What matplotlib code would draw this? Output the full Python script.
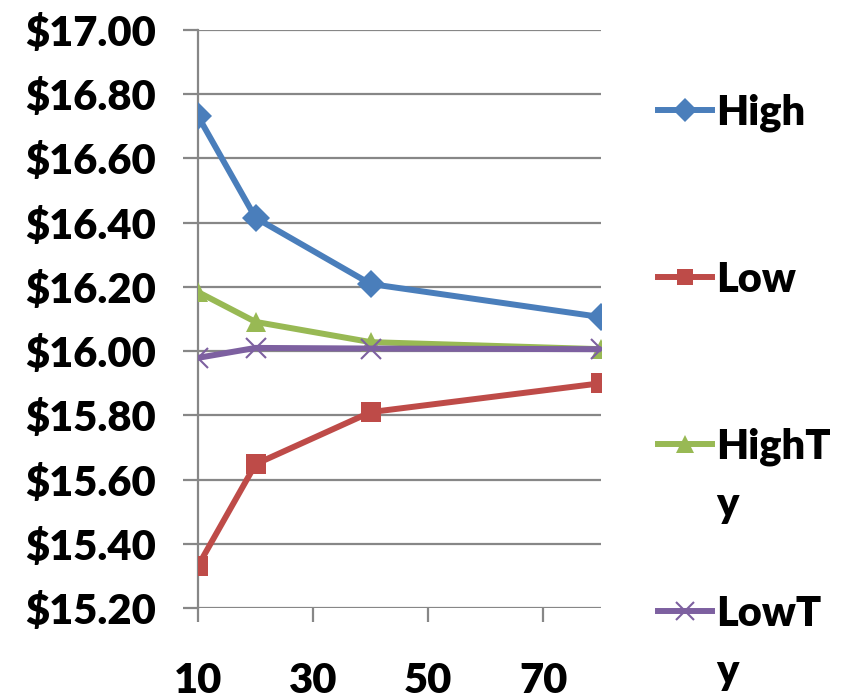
import matplotlib.pyplot as plt
from matplotlib.lines import Line2D
from matplotlib.ticker import FuncFormatter

# price series against x
x = [10, 20, 40, 80]
high = [16.732, 16.415, 16.209, 16.106]
low = [15.331, 15.648, 15.810, 15.900]
high_ty = [16.184, 16.091, 16.028, 16.006]
low_ty = [15.979, 16.010, 16.008, 16.006]

names = ["High", "Low", "HighT\ny", "LowT\ny"]
colors = ["#4A7EBB", "#BE4B48", "#98B954", "#7D60A0"]
markers = ["D", "s", "^", "x"]
sizes = [14, 14, 15, 15]

plt.rcParams['font.family'] = ['Lato', 'DejaVu Sans']
FS = 30
FW = "heavy"

fig = plt.figure(figsize=(8.46, 6.99), dpi=100)
ax = fig.add_axes([198/846, 1-608/699, (601-198)/846, (608-30)/699])

grid = "#878787"
for vals, c, m, s in zip([high, low, high_ty, low_ty], colors, markers, sizes):
    ax.plot(x, vals, color=c, lw=4.3, marker=m, markersize=s,
            markeredgewidth=1.5 if m == "x" else 0, markeredgecolor=c, zorder=3)

ax.set_xlim(10, 80)
ax.set_ylim(15.2, 17.0)
ax.set_xticks([10, 30, 50, 70])
ax.set_yticks([15.2 + 0.2*i for i in range(10)])
ax.yaxis.set_major_formatter(FuncFormatter(lambda v, p: "${:.2f}".format(v)))
ax.yaxis.grid(True, color=grid, lw=1.6)
ax.set_axisbelow(True)

for side in ["top", "right", "bottom"]:
    ax.spines[side].set_visible(False)
ax.spines["left"].set_color(grid)
ax.spines["left"].set_linewidth(1.6)

ax.tick_params(axis="y", length=11, width=1.6, color=grid, pad=19, labelsize=FS)
ax.tick_params(axis="x", length=10, width=1.6, color=grid, pad=29, labelsize=FS)
for lbl in ax.get_xticklabels() + ax.get_yticklabels():
    lbl.set_fontweight(FW)

# legend on the right, one entry per series; long names wrap onto a second line
rows = [110, 277, 444, 611]
for name, c, m, s, yp in zip(names, colors, markers, sizes, rows):
    yf = 1 - yp/699
    fig.add_artist(Line2D([658/846, 712/846], [yf, yf], color=c, lw=4.3,
                          transform=fig.transFigure))
    fig.add_artist(Line2D([685/846], [yf], color=c, marker=m, markersize=s*0.85,
                          markeredgewidth=1.5 if m == "x" else 0, markeredgecolor=c,
                          transform=fig.transFigure))
    for k, part in enumerate(name.split("\n")):
        fig.text(716/846, 1 - (yp + 15 + 58*k)/699, part, fontsize=FS,
                 fontweight=FW, va="baseline", ha="left",
                 transform=fig.transFigure)

fig.savefig("out.png", dpi=100)
